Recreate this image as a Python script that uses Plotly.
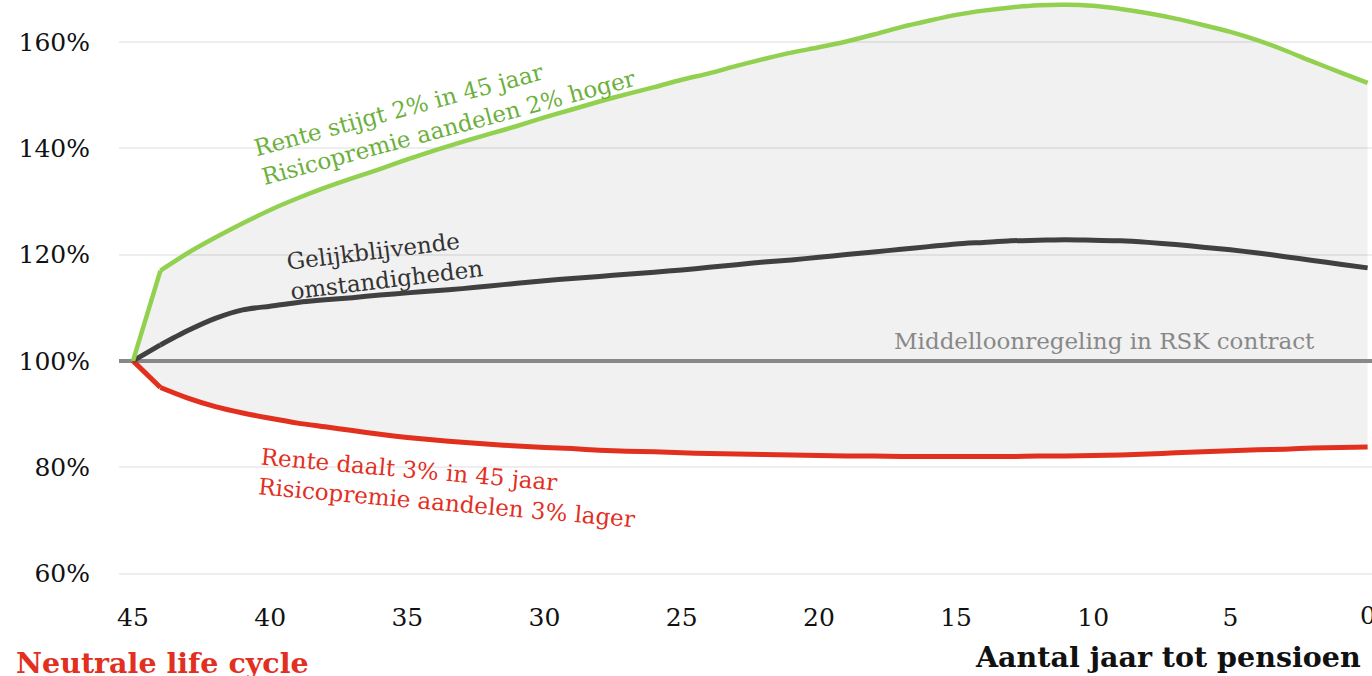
import plotly.graph_objects as go

# ---- data ----
years = list(range(45, -1, -1))
green = [100, 117.0, 120.3, 123.2, 125.9, 128.4, 130.6, 132.6, 134.4, 136.1,
         137.9, 139.6, 141.2, 142.7, 144.2, 145.8, 147.3, 148.8, 150.2, 151.5,
         152.9, 154.1, 155.5, 156.8, 158.0, 159.0, 160.1, 161.4, 162.8, 164.0,
         165.1, 165.9, 166.5, 166.9, 167.0, 166.8, 166.2, 165.4, 164.4, 163.2,
         161.9, 160.3, 158.4, 156.3, 154.3, 152.3]
black = [100, 103.0, 105.7, 108.0, 109.6, 110.3, 111.0, 111.5, 111.9, 112.4,
         112.8, 113.2, 113.6, 114.1, 114.6, 115.1, 115.5, 115.9, 116.3, 116.7,
         117.1, 117.6, 118.1, 118.6, 119.0, 119.5, 120.0, 120.5, 121.0, 121.5,
         122.0, 122.3, 122.6, 122.7, 122.8, 122.7, 122.6, 122.3, 121.9, 121.4,
         120.9, 120.3, 119.6, 118.9, 118.2, 117.5]
red = [100, 95.0, 93.0, 91.4, 90.2, 89.2, 88.3, 87.6, 86.9, 86.2,
       85.6, 85.1, 84.7, 84.3, 84.0, 83.7, 83.5, 83.2, 83.0, 82.9,
       82.7, 82.6, 82.5, 82.4, 82.3, 82.2, 82.1, 82.1, 82.0, 82.0,
       82.0, 82.0, 82.0, 82.1, 82.1, 82.2, 82.3, 82.5, 82.7, 82.9,
       83.1, 83.3, 83.4, 83.6, 83.7, 83.8]
baseline = 100
y_ticks = [60, 80, 100, 120, 140, 160]
y_tick_labels = ["60%", "80%", "100%", "120%", "140%", "160%"]
x_ticks = [45, 40, 35, 30, 25, 20, 15, 10, 5, 0]
x_tick_labels = ["45", "40", "35", "30", "25", "20", "15", "10", "5", "0"]

x_range = [45.51, -0.16]
y_range = [56.9, 167.9]

FONT = "DejaVu Serif"
GREEN_LINE = "#92d050"
GREEN_TEXT = "#6cb03c"
RED = "#e2301f"
DARK = "#404040"
GREY = "#888888"

fig = go.Figure()

# fill band between red and green
fig.add_trace(go.Scatter(x=years, y=red, mode="lines", line=dict(width=0, shape="spline", smoothing=0.5),
                         showlegend=False, hoverinfo="skip"))
fig.add_trace(go.Scatter(x=years, y=green, mode="lines", line=dict(width=0, shape="spline", smoothing=0.5),
                         fill="tonexty", fillcolor="rgba(0,0,0,0.055)",
                         showlegend=False, hoverinfo="skip"))
# baseline
fig.add_trace(go.Scatter(x=x_range, y=[baseline, baseline], mode="lines",
                         line=dict(color=GREY, width=4), showlegend=False))


def add_curve(values, color, width):
    # first year: straight segment (sharp kink), then smooth curve
    fig.add_trace(go.Scatter(x=years[:2], y=values[:2], mode="lines",
                             line=dict(color=color, width=width),
                             showlegend=False))
    fig.add_trace(go.Scatter(x=years[1:], y=values[1:], mode="lines",
                             line=dict(color=color, width=width, shape="spline", smoothing=0.8),
                             showlegend=False))


add_curve(red, RED, 5)
add_curve(black, DARK, 5)
add_curve(green, GREEN_LINE, 4.5)

annotations = [
    dict(x=33.63, y=146.6, text="Rente stijgt 2% in 45 jaar<br>Risicopremie aandelen 2% hoger",
         textangle=-15, font=dict(color=GREEN_TEXT, size=23, family=FONT)),
    dict(x=35.82, y=118.0, text="Gelijkblijvende<br>omstandigheden",
         textangle=-7, font=dict(color="#333333", size=23, family=FONT)),
    dict(x=33.52, y=76.1, text="Rente daalt 3% in 45 jaar<br>Risicopremie aandelen 3% lager",
         textangle=5, font=dict(color=RED, size=23, family=FONT)),
    dict(x=9.58, y=103.7, text="Middelloonregeling in RSK contract",
         font=dict(color=GREY, size=23, family=FONT)),
]
for a in annotations:
    a.update(xref="x", yref="y", showarrow=False, align="left",
             xanchor="center", yanchor="middle")

# last tick label (clipped at the right edge, as in the original)
annotations.append(dict(xref="x", yref="paper", x=x_ticks[-1], y=-0.044,
                        xanchor="center", yanchor="middle", showarrow=False,
                        text=x_tick_labels[-1],
                        font=dict(color="#111111", size=25, family=FONT)))

annotations.append(dict(xref="paper", yref="paper", x=-0.084, y=-0.124,
                        xanchor="left", yanchor="middle", showarrow=False,
                        text="<b>Neutrale life cycle</b>",
                        font=dict(color=RED, size=28.5, family=FONT)))
annotations.append(dict(xref="paper", yref="paper", x=0.993, y=-0.1136,
                        xanchor="right", yanchor="middle", showarrow=False,
                        text="<b>Aantal jaar tot pensioen</b>",
                        font=dict(color="#111111", size=28.5, family=FONT)))

fig.update_layout(
    width=1372, height=676,
    margin=dict(l=119, r=0, t=0, b=86),
    paper_bgcolor="white", plot_bgcolor="white",
    annotations=annotations,
    font=dict(family=FONT, color="#111111"),
)
fig.update_xaxes(range=x_range, tickvals=x_ticks[:-1], ticktext=x_tick_labels[:-1],
                 showgrid=False, zeroline=False, showline=False,
                 ticks="", ticklabelstandoff=10,
                 tickfont=dict(size=25, family=FONT, color="#111111"))
fig.update_yaxes(range=y_range, tickvals=y_ticks, ticktext=y_tick_labels,
                 showgrid=True, gridcolor="#eeeeee", gridwidth=2,
                 zeroline=False, showline=False, ticks="",
                 ticklabelstandoff=28,
                 tickfont=dict(size=25, family=FONT, color="#111111"))

fig.write_html("out.html")
